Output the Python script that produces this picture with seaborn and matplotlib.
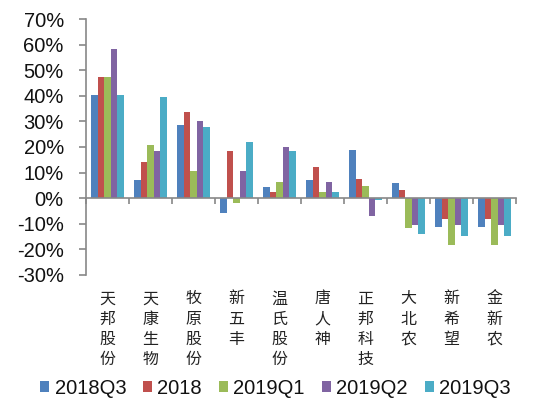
import matplotlib
matplotlib.use("Agg")
import matplotlib.pyplot as plt
import matplotlib.transforms as mtransforms
from matplotlib.ticker import FixedLocator, PercentFormatter
import numpy as np
import pandas as pd
import seaborn as sns

companies = ["天邦股份", "天康生物", "牧原股份", "新五丰", "温氏股份",
             "唐人神", "正邦科技", "大北农", "新希望", "金新农"]
series = ["2018Q3", "2018", "2019Q1", "2019Q2", "2019Q3"]
v_2018Q3 = [40.2, 7.0, 28.6, -5.9, 4.2, 7.0, 19.0, 6.1, -11.1, -11.1]
v_2018 = [47.4, 14.2, 33.7, 18.5, 2.5, 12.0, 7.5, 3.2, -8.1, -8.1]
v_2019Q1 = [47.4, 20.7, 10.5, -1.8, 6.3, 2.6, 4.6, -11.8, -18.3, -18.3]
v_2019Q2 = [58.2, 18.5, 30.1, 10.5, 20.0, 6.3, -6.8, -10.4, -10.4, -10.4]
v_2019Q3 = [40.2, 39.5, 27.9, 22.1, 18.5, 2.6, -0.8, -14.0, -14.8, -14.8]
colors = ["#4F81BD", "#C0504D", "#9BBB59", "#8064A2", "#4BACC6"]
yticks = [-30, -20, -10, 0, 10, 20, 30, 40, 50, 60, 70]

values = [v_2018Q3, v_2018, v_2019Q1, v_2019Q2, v_2019Q3]
rows = []
for s, vals in zip(series, values):
    for c, v in zip(companies, vals):
        rows.append({"company": c, "series": s, "value": v})
df = pd.DataFrame(rows)

sns.set_theme(style="white")
plt.rcParams["font.family"] = ["Liberation Sans", "Noto Sans CJK SC", "DejaVu Sans"]
plt.rcParams["axes.unicode_minus"] = False

fig = plt.figure(figsize=(5.54, 4.12), dpi=100)
ax = fig.add_axes([86/554, (412-275)/412, (516-86)/554, (275-19)/412])

sns.barplot(data=df, x="company", y="value", hue="series", order=companies,
            hue_order=series, palette=colors, saturation=1, width=0.77,
            errorbar=None, ax=ax, legend=True, linewidth=0)

ax.set_ylim(-30, 70)
ax.set_xlim(-0.5, len(companies) - 0.5)
ax.yaxis.set_major_locator(FixedLocator(yticks))
ax.yaxis.set_major_formatter(PercentFormatter(decimals=0))
ax.set_xlabel("")
ax.set_ylabel("")

gray = "#888888"
for s in ["top", "right"]:
    ax.spines[s].set_visible(False)
ax.spines["left"].set_color(gray)
ax.spines["left"].set_linewidth(1.2)
ax.spines["bottom"].set_position(("data", 0))
ax.spines["bottom"].set_color(gray)
ax.spines["bottom"].set_linewidth(1.2)

ax.tick_params(axis="y", which="major", direction="out", length=5, width=1.2,
               color=gray, labelsize=14.5, pad=11, left=True, labelcolor="#111111")
ax.set_xticks(np.arange(-0.5, len(companies) + 0.5, 1.0))
ax.set_xticklabels([])
ax.tick_params(axis="x", which="major", direction="out", length=4, width=1.2,
               color=gray, bottom=True)

trans = mtransforms.blended_transform_factory(ax.transData, ax.transAxes)
for i, name in enumerate(companies):
    ax.text(i, -0.06, "\n".join(name), transform=trans, ha="center", va="top",
            fontsize=11.5, linespacing=1.25, color="#222222",
            family=["Noto Sans CJK SC", "DejaVu Sans"])

handles, labels = ax.get_legend_handles_labels()
ax.legend_.remove()
fig.legend(handles, labels, loc="center", bbox_to_anchor=(0.497, 0.058),
           ncol=5, frameon=False, fontsize=14.5, handlelength=0.45,
           handleheight=0.45, handletextpad=0.25, columnspacing=0.85,
           borderaxespad=0, labelcolor="#111111")

fig.savefig("out.png", dpi=100)
